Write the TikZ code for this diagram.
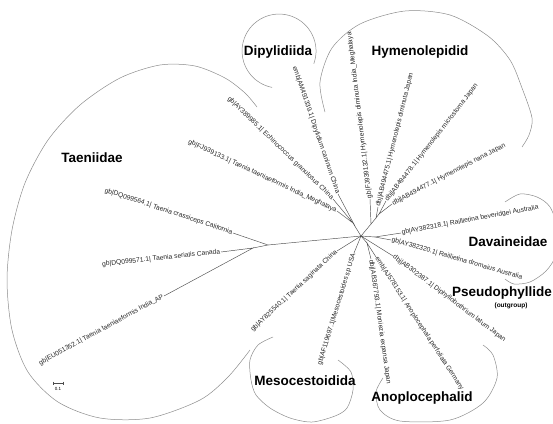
\documentclass[tikz,border=0pt]{standalone}
\usepackage{fontspec}
\setmainfont{Liberation Sans}
\usetikzlibrary{
  calc
  , positioning
}
\tikzset{
  branch/.style={draw=black!70, line width=0.45pt},
  clade/.style={draw=black!45, line width=0.5pt},
  leaf/.style={font=\fontsize{6.7}{7}\selectfont, inner sep=0.6pt, text=black!85},
  leafR/.style={leaf, anchor=west, rotate=#1},
  leafL/.style={leaf, anchor=east, rotate=#1},
  cladename/.style={font=\fontsize{13.5}{15}\selectfont\bfseries, inner sep=0pt},
}

\begin{document}
\begin{tikzpicture}[x=1pt, y=-1pt]
      \useasboundingbox (0,0) rectangle (553,423);

      % inner nodes
      \coordinate (hub) at (361,236);
      \coordinate (TaeniaN) at (268,245);
      \coordinate (TaeniaA) at (253,248);
      \coordinate (UpLeft) at (353,223);
      \coordinate (DipylN) at (356,228);
      \coordinate (HymA) at (379,214);
      \coordinate (HymB) at (376,218);
      \coordinate (HymC) at (371,224);
      \coordinate (RailN) at (375,237);
      \coordinate (AnopN) at (367,243);

      % tips
      \coordinate (tAP) at (164,296);
      \coordinate (tSer) at (221,252);
      \coordinate (tCra) at (233,233);
      \coordinate (tMeg) at (337,211);
      \coordinate (tEch) at (333,199);
      \coordinate (tDip) at (338,194);
      \coordinate (tSag) at (337,251);
      \coordinate (tMes) at (354,253);
      \coordinate (tHdI) at (370,199);
      \coordinate (tHdJ) at (378,207);
      \coordinate (tHmi) at (386,201);
      \coordinate (tHna) at (392,204);
      \coordinate (tRbe) at (401,233);
      \coordinate (tRdr) at (391,240);
      \coordinate (tDla) at (393,256);
      \coordinate (tApe) at (376,257);
      \coordinate (tMex) at (371,259);

      \draw[branch] (tAP) -- (TaeniaA) -- (tSer);
      \draw[branch] (TaeniaA) -- (TaeniaN) -- (tCra);
      \draw[branch] (TaeniaN) -- (hub);
      \draw[branch] (tMeg) -- (UpLeft) -- (tEch);
      \draw[branch] (UpLeft) -- (DipylN) -- (tDip);
      \draw[branch] (DipylN) -- (hub);
      \draw[branch] (tSag) -- (hub) -- (tMes);
      \draw[branch] (tHmi) -- (HymA) -- (tHna);
      \draw[branch] (HymA) -- (HymB) -- (tHdJ);
      \draw[branch] (HymB) -- (HymC) -- (tHdI);
      \draw[branch] (HymC) -- (hub);
      \draw[branch] (tRbe) -- (RailN) -- (tRdr);
      \draw[branch] (RailN) -- (hub) -- (tDla);
      \draw[branch] (tApe) -- (AnopN) -- (tMex);
      \draw[branch] (AnopN) -- (hub);

      % leaf labels
      \node[leafL=28.5] (lAP) at (tAP) {gb|EU051352.1| Taenia taeniaeformis India\_AP};
      \node[leafL=6] (lSer) at (tSer) {gb|DQ099571.1| Taenia serialis Canada};
      \node[leafL=-18.4] (lCra) at (tCra) {gb|DQ099564.1| Taenia crassiceps California};
      \node[leafL=-25] (lMeg) at (tMeg) {gb|FJ939133.1| Taenia taeniaeformis India\_Meghalaya};
      \node[leafL=-44] (lEch) at (tEch) {gb|AY389985.1| Echinococcus granulosus China};
      \node[leafL=-71] (lDip) at (tDip) {emb|AM491339.1| Dipylidium caninum China};
      \node[leafL=43] (lSag) at (tSag) {gb|AY825540.1| Taenia saginata China};
      \node[leafL=73] (lMes) at (tMes) {gb|AF119697.1|Mesocestoides sp USA};
      \node[leafR=97] (lHdI) at (tHdI) {gb|FJ939132.1| Hymenolepis diminuta India\_Meghalaya};
      \node[leafR=76] (lHdJ) at (tHdJ) {dbj|AB494475.1| Hymenolepis diminuta Japan};
      \node[leafR=52] (lHmi) at (tHmi) {dbj|AB494478.1| Hymenolepis microstoma Japan};
      \node[leafR=27.5] (lHna) at (tHna) {dbj|AB494477.1| Hymenolepis nana Japan};
      \node[leafR=10.5] (lRbe) at (tRbe) {gb|AY382318.1| Raillietina beveridgei Australia};
      \node[leafR=-16] (lRdr) at (tRdr) {gb|AY382320.1| Raillietina dromaius Australia};
      \node[leafR=-37] (lDla) at (tDla) {dbj|AB302387.1| Diphyllobothrium latum Japan};
      \node[leafR=-57] (lApe) at (tApe) {emb|AJ578153.1| Anoplocephala perfoliata Germany};
      \node[leafR=-82] (lMex) at (tMex) {dbj|AB367793.1| Moniezia expansa Japan};

      % clade outlines
      \draw[clade] plot[smooth] coordinates {(250,350) (228,377) (200,400) (150,418)
        (100,418) (58,402) (28,372) (12,330) (7,280) (12,230) (25,183) (48,140)
        (80,105) (120,78) (160,65) (195,66) (225,78) (245,93) (257,107)};
      \draw[clade] (313.8,63.7) arc[start angle=20, end angle=-259.3, radius=37];
      \draw[clade] plot[smooth] coordinates {(325,112) (320,82) (332,48) (360,24)
        (405,11) (450,15) (488,36) (510,60) (522,88) (532,118) (529,135) (522,147)};
      \draw[clade] plot[smooth] coordinates {(505,202) (520,194) (537,197) (550,207)
        (558,230) (556,255) (546,271) (530,282) (514,284) (505,279)};
      \draw[clade] plot[smooth] coordinates {(273,337) (258,345) (250,360) (251,380)
        (256,395) (270,408) (290,418) (312,422) (335,416) (347,408) (353,390)
        (351,372) (338,360)};
      \draw[clade] plot[smooth] coordinates {(383,378) (376,392) (380,410) (400,421)
        (450,420) (483,403) (497,378) (493,355) (483,345)};

      % clade names
      \node[cladename] (Taeniidae) at (92,158) {Taeniidae};
      \node[cladename] (Dipylidiida) at (278,52) {Dipylidiida};
      \node[cladename] (Hymenolepidid) at (420,52) {Hymenolepidid};
      \node[cladename] (Davaineidae) at (508,242) {Davaineidae};
      \node[cladename, anchor=west] (Pseudo) at (452,293) {Pseudophyllide};
      \node[font=\fontsize{6.5}{7}\selectfont\bfseries, inner sep=0pt] (outgroup)
        at (511,306) {(outgroup)};
      \node[cladename] (Meso) at (305,381) {Mesocestoidida};
      \node[cladename] (Anoplo) at (422,398) {Anoplocephalid};

      % scale
      \coordinate (barL) at (53,383);
      \coordinate (barR) at (63,383);
      \draw[branch, line width=0.4pt] (barL) -- (barR);
      \draw[branch, line width=0.4pt] ([yshift=1.5pt]barL) -- ([yshift=-1.5pt]barL);
      \draw[branch, line width=0.4pt] ([yshift=1.5pt]barR) -- ([yshift=-1.5pt]barR);
      \node[font=\fontsize{4.5}{5}\selectfont, inner sep=0pt]
        (barlabel) at ($(barL)!0.5!(barR)+(0,5.5)$) {0.1};
\end{tikzpicture}
\end{document}
